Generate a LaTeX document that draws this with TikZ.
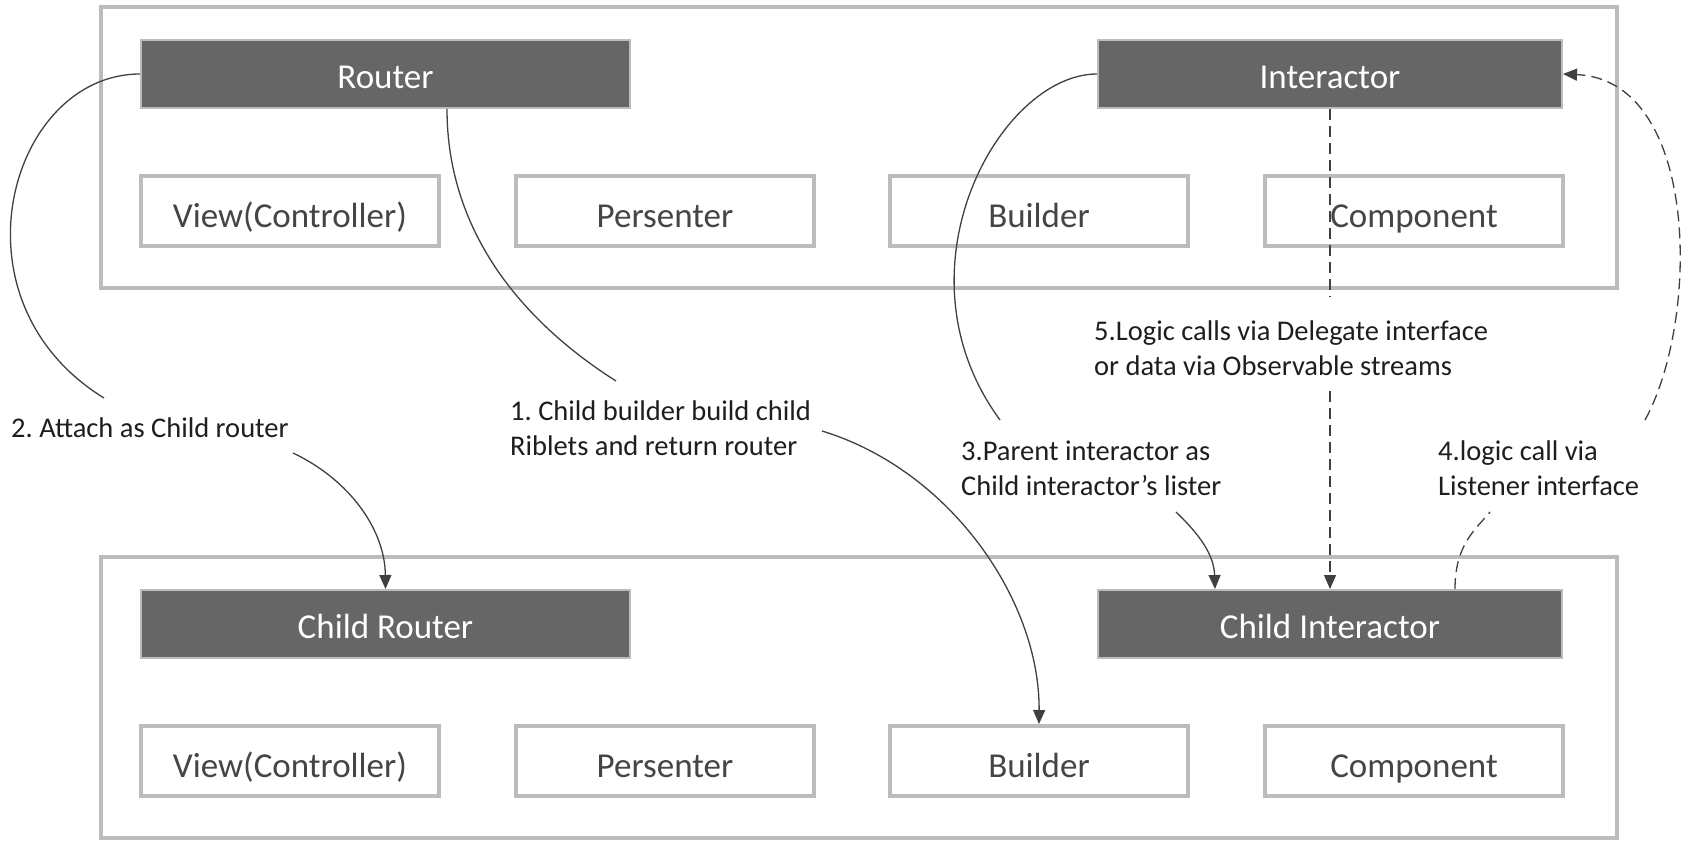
\documentclass[tikz,border=0pt]{standalone}
\usepackage{fontspec}
\setmainfont{Carlito}
\usetikzlibrary{arrows.meta,calc}
\frenchspacing
\definecolor{boxline}{HTML}{BCBCBC}
\definecolor{darkfill}{HTML}{666666}
\definecolor{boxtext}{HTML}{454545}
\definecolor{conn}{HTML}{404040}
\definecolor{labeltext}{HTML}{1E1E1E}
\tikzset{
  outerbox/.style={draw=boxline, line width=4pt},
  darkbox/.style={draw=boxline, fill=darkfill, line width=2pt, text=white, minimum height=68pt, inner sep=0pt, text height=34pt, text depth=6pt, font=\fontsize{35}{42}\selectfont},
  whitebox/.style={draw=boxline, fill=white, line width=4pt, text=boxtext, minimum width=298pt, minimum height=70pt, inner sep=0pt, text height=38pt, text depth=6pt, font=\fontsize{35}{42}\selectfont},
  lbl/.style={anchor=west, align=left, inner sep=0pt, text=labeltext, font=\fontsize{28.5}{35}\selectfont\frenchspacing},
  conline/.style={draw=conn, line width=1.3pt},
  tip/.style={-{Triangle[length=14pt,width=12pt]}},
  dashline/.style={dash pattern=on 11pt off 6pt}
}
\begin{document}
\begin{tikzpicture}[x=1pt,y=-1pt]
\useasboundingbox[fill=white] (0,0) rectangle (1692,841);
% outer containers
\draw[outerbox] (101,7) rectangle (1617,288);
\draw[outerbox] (101,557) rectangle (1617,838);
% top group
\node[darkbox, minimum width=489pt] (router) at (385.5,74) {Router};
\node[darkbox, minimum width=464pt] (inter) at (1330,74) {Interactor};
\node[whitebox] (view) at (290,211) {View(Controller)};
\node[whitebox] (pres) at (665,211) {Persenter};
\node[whitebox] (build) at (1039,211) {Builder};
\node[whitebox] (comp) at (1414,211) {Component};
% bottom group
\node[darkbox, minimum width=489pt] (crouter) at (385.5,624) {Child Router};
\node[darkbox, minimum width=464pt] (cinter) at (1330,624) {Child Interactor};
\node[whitebox] (cview) at (290,761) {View(Controller)};
\node[whitebox] (cpres) at (665,761) {Persenter};
\node[whitebox] (cbuild) at (1039,761) {Builder};
\node[whitebox] (ccomp) at (1414,761) {Component};
% labels
\node[lbl] (l2) at (11,428) {2. Attach as Child router};
\node[lbl] (l1) at (510,428) {1. Child builder build child\\Riblets and return router};
\node[lbl] (l5) at (1094,348) {5.Logic calls via Delegate interface\\or data via Observable streams};
\node[lbl] (l3) at (961,468) {3.Parent interactor as\\Child interactor’s lister};
\node[lbl] (l4) at (1438,468) {4.logic call via\\Listener interface};
% free ends
\coordinate (e2a) at (104,398);
\coordinate (s2b) at (293,453);
\coordinate (e1a) at (616,381);
\coordinate (s1b) at (822,431);
\coordinate (e3a) at (1000,420);
\coordinate (s3b) at (1176,512);
\coordinate (e5a) at (1330,297);
\coordinate (s5b) at (1330,391);
\coordinate (e4a) at (1490,512);
\coordinate (s4b) at (1645,420);
% connectors
\draw[conline] (router.west) .. controls (10,74) and (-55,300) .. (e2a);
\draw[conline, tip] (s2b) .. controls (350,480) and (385,530) .. (crouter.north);
\draw[conline] ([xshift=61.5pt]router.south) .. controls (447,230) and (520,320) .. (e1a);
\draw[conline, tip] (s1b) .. controls (950,470) and (1040,600) .. (cbuild.north);
\draw[conline] (inter.west) .. controls (1000,74) and (890,270) .. (e3a);
\draw[conline, tip] (s3b) .. controls (1200,535) and (1214,555) .. ([xshift=-115pt]cinter.north);
\draw[conline, dashline] (inter.south) -- (e5a);
\draw[conline, dashline, tip] (s5b) -- (cinter.north);
\draw[conline, dashline] ([xshift=125pt]cinter.north) .. controls (1455,545) and (1475,530) .. (e4a);
\draw[conline, dashline, tip] (s4b) .. controls (1700,320) and (1700,80) .. (inter.east);
\end{tikzpicture}
\end{document}
